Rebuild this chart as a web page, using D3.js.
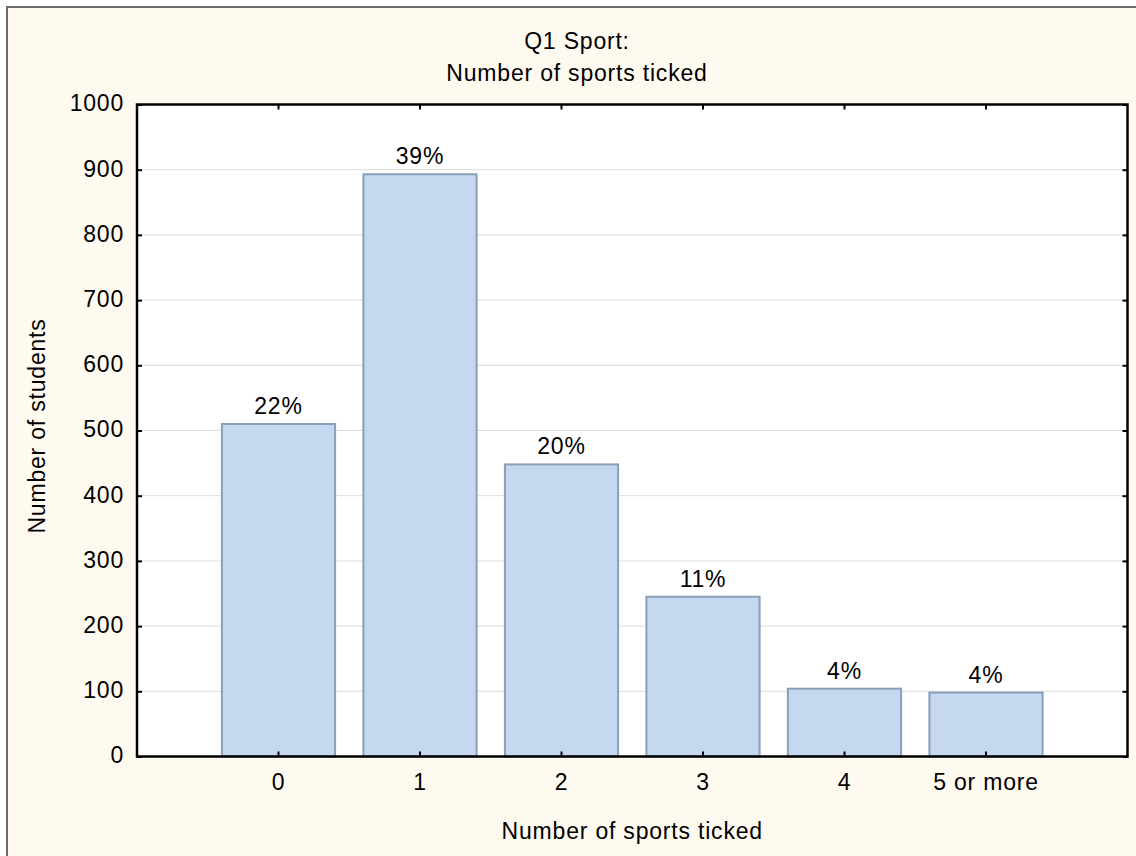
<!DOCTYPE html>
<html>
<head>
<meta charset="utf-8">
<script src="https://cdn.jsdelivr.net/npm/d3@7"></script>
<style>
  html, body { margin: 0; padding: 0; background: #ffffff; }
  svg { display: block; }
  text { font-family: "Liberation Sans", Arial, sans-serif; fill: #000; }
</style>
</head>
<body>
<svg id="chart" width="1136" height="856"></svg>
<script>
// ---- data ----
const categories = ["0", "1", "2", "3", "4", "5 or more"];
const students = [510, 893, 448, 245, 104, 98];
const pctLabels = ["22%", "39%", "20%", "11%", "4%", "4%"];
const yTicks = [0, 100, 200, 300, 400, 500, 600, 700, 800, 900, 1000];
const titleLines = ["Q1 Sport:", "Number of sports ticked"];
const xTitle = "Number of sports ticked";
const yTitle = "Number of students";

// ---- layout ----
const W = 1136, H = 856;
const FS = 23, LS = 0.8;
const plot = { left: 137, right: 1127.5, top: 104.5, bottom: 756.5 };
const svg = d3.select("#chart");

// frame / background
svg.append("rect").attr("x", 0).attr("y", 0).attr("width", W).attr("height", H).attr("fill", "#ffffff");
svg.append("rect").attr("x", 7).attr("y", 7).attr("width", W + 20).attr("height", H + 20)
  .attr("fill", "#fffaf0").attr("stroke", "#6a6a6a").attr("stroke-width", 2);

// scales
const x = d3.scaleBand().domain(categories).range([plot.left, plot.right])
  .paddingInner(0.2).paddingOuter(0.6);
const y = d3.scaleLinear().domain([0, 1000]).range([plot.bottom, plot.top]);

// plot background
svg.append("rect").attr("x", plot.left).attr("y", plot.top)
  .attr("width", plot.right - plot.left).attr("height", plot.bottom - plot.top)
  .attr("fill", "#ffffff");

// gridlines
svg.append("g").selectAll("line").data(yTicks.filter(d => d > 0 && d < 1000)).join("line")
  .attr("x1", plot.left).attr("x2", plot.right)
  .attr("y1", d => y(d)).attr("y2", d => y(d))
  .attr("stroke", "#dcdcdc").attr("stroke-width", 1);

// bars
svg.append("g").selectAll("rect").data(categories).join("rect")
  .attr("x", d => x(d))
  .attr("width", x.bandwidth())
  .attr("y", (d, i) => y(students[i]))
  .attr("height", (d, i) => y(0) - y(students[i]))
  .attr("fill", "#c6d8ef")
  .attr("stroke", "#8a9fba")
  .attr("stroke-width", 2);

// value labels
svg.append("g").selectAll("text").data(categories).join("text")
  .attr("x", d => x(d) + x.bandwidth() / 2)
  .attr("y", (d, i) => y(students[i]) - 10)
  .attr("text-anchor", "middle")
  .attr("font-size", FS)
  .attr("letter-spacing", LS)
  .text((d, i) => pctLabels[i]);

// axes
function styleAxis(g) {
  g.select(".domain").remove();
  g.selectAll(".tick line").attr("stroke", "#000").attr("stroke-width", 2);
}

const gBottom = svg.append("g").attr("transform", `translate(0,${plot.bottom})`)
  .call(d3.axisBottom(x).tickSize(-5).tickSizeOuter(0));
styleAxis(gBottom);
gBottom.selectAll(".tick text").attr("y", 33.5).attr("dy", 0)
  .attr("font-size", FS).attr("letter-spacing", LS).attr("font-family", null).attr("fill", "#000");

const gTop = svg.append("g").attr("transform", `translate(0,${plot.top})`)
  .call(d3.axisTop(x).tickSize(-5).tickSizeOuter(0).tickFormat(""));
styleAxis(gTop);

const gLeft = svg.append("g").attr("transform", `translate(${plot.left},0)`)
  .call(d3.axisLeft(y).tickValues(yTicks).tickFormat(d3.format("d"))
    .tickSize(-5).tickSizeOuter(0).tickPadding(13));
styleAxis(gLeft);
gLeft.selectAll(".tick text").attr("dy", "0.28em")
  .attr("font-size", FS).attr("letter-spacing", LS).attr("font-family", null).attr("fill", "#000");

const gRight = svg.append("g").attr("transform", `translate(${plot.right},0)`)
  .call(d3.axisRight(y).tickValues(yTicks).tickSize(-5).tickSizeOuter(0).tickFormat(""));
styleAxis(gRight);

// plot border
svg.append("rect").attr("x", plot.left).attr("y", plot.top)
  .attr("width", plot.right - plot.left).attr("height", plot.bottom - plot.top)
  .attr("fill", "none").attr("stroke", "#000").attr("stroke-width", 2.5);

// titles
svg.append("g").selectAll("text").data(titleLines).join("text")
  .attr("x", 577)
  .attr("y", (d, i) => 49 + i * 32)
  .attr("text-anchor", "middle")
  .attr("font-size", FS)
  .attr("letter-spacing", LS)
  .text(d => d);

svg.append("text")
  .attr("x", (plot.left + plot.right) / 2)
  .attr("y", 839)
  .attr("text-anchor", "middle")
  .attr("font-size", FS)
  .attr("letter-spacing", LS)
  .text(xTitle);

svg.append("text")
  .attr("transform", `translate(45,426) rotate(-90)`)
  .attr("text-anchor", "middle")
  .attr("font-size", FS)
  .attr("letter-spacing", LS)
  .text(yTitle);
</script>
</body>
</html>
